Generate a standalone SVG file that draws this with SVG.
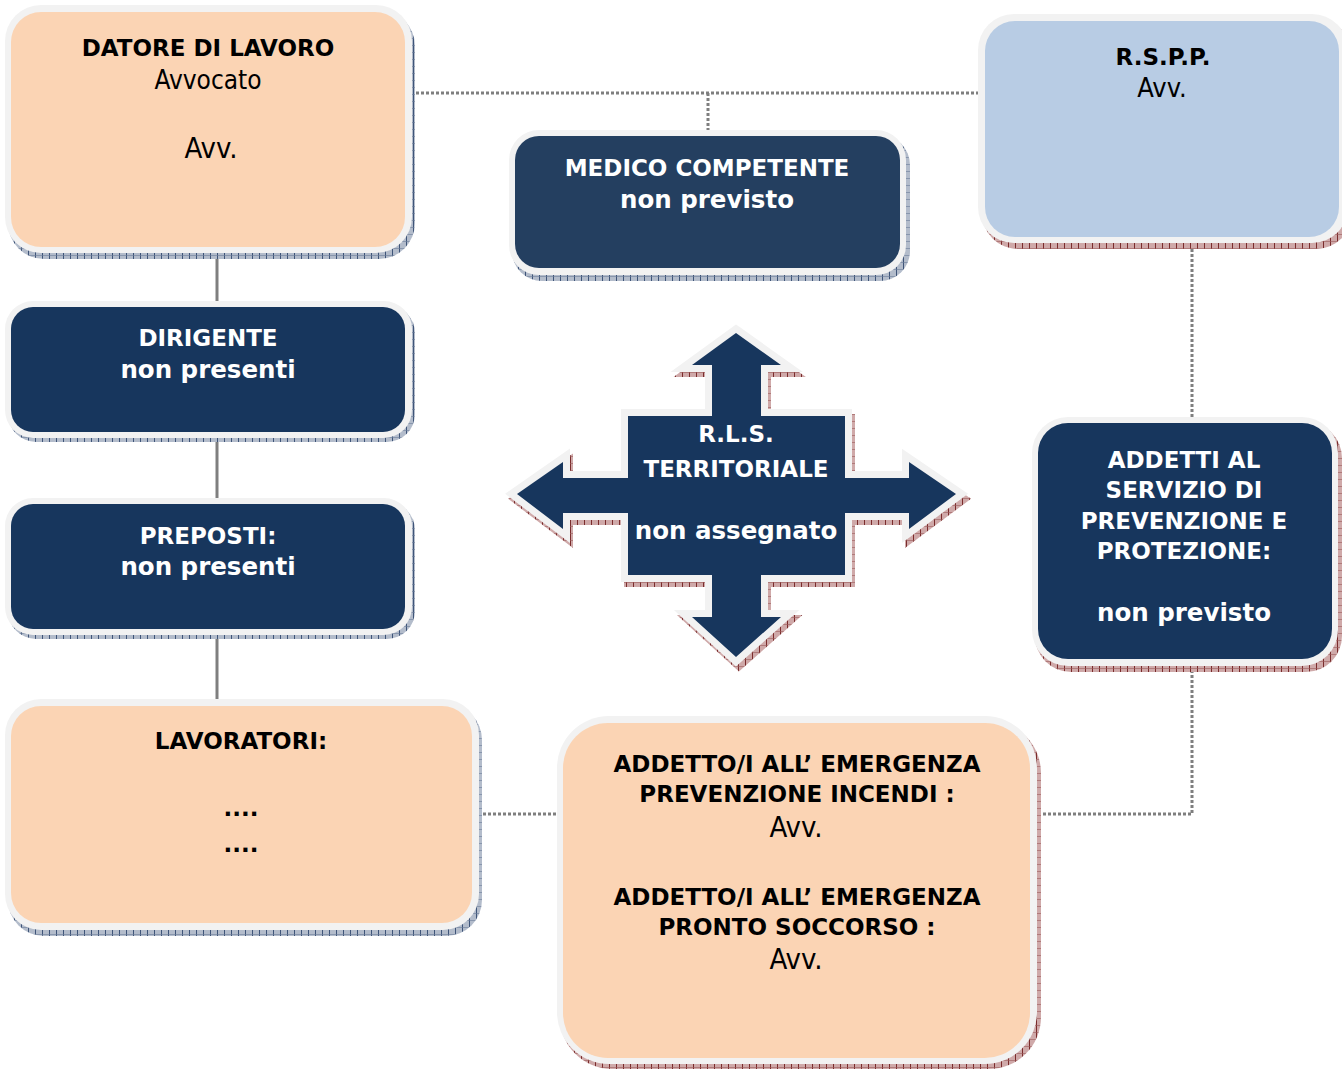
<svg xmlns="http://www.w3.org/2000/svg" xmlns:xlink="http://www.w3.org/1999/xlink" width="1342" height="1070" viewBox="0 0 1342 1070">
<style>
.b{font-family:"DejaVu Sans",Verdana,sans-serif;font-weight:bold;font-size:23px;text-anchor:middle}
.l{font-size:24.5px}
.r{font-family:"DejaVu Sans Condensed","DejaVu Sans",sans-serif;font-stretch:condensed;text-anchor:middle;fill:#000}
.w{fill:#fff}
.k{fill:#000}
.halo{fill:#F2F2F2}
.peach{fill:#FBD4B4}
.navy{fill:#17365D}
.sb{fill:url(#hb)}
.sr{fill:url(#hr)}
.solid{stroke:#7F7F7F;stroke-width:3;fill:none}
.dot{stroke:#7F7F7F;stroke-width:3;fill:none;stroke-dasharray:3 2}
</style>
<defs>
<pattern id="hb" width="7" height="7" patternUnits="userSpaceOnUse"><rect width="7" height="7" fill="#b3bccb"/><path d="M0.5 0V7" stroke="#3e5478" stroke-width="1"/><path d="M0 3.5H7" stroke="#6b7c99" stroke-width="0.6"/></pattern>
<pattern id="hr" width="7" height="7" patternUnits="userSpaceOnUse"><rect width="7" height="7" fill="#cfa9a9"/><path d="M0.5 0V7" stroke="#7a2c2c" stroke-width="1"/><path d="M0 3.5H7" stroke="#9a5a5a" stroke-width="0.6"/></pattern>
<polygon id="arrow" points="736,333 781,365 761,365 761,416 845,416 845,478 909,478 909,462 956,494 909,529 909,513 845,513 845,575 761,575 761,617 781,617 736,657 692,617 712,617 712,575 628,575 628,513 563,513 563,529 517,494 563,462 563,478 628,478 628,416 712,416 712,365 692,365"/>
</defs>
<rect width="1342" height="1070" fill="#fff"/>

<g id="connectors">
<line class="solid" x1="217" y1="255" x2="217" y2="308"/>
<line class="solid" x1="217" y1="437" x2="217" y2="505"/>
<line class="solid" x1="217" y1="634" x2="217" y2="707"/>
<line class="dot" x1="411" y1="93" x2="980" y2="93"/>
<line class="dot" x1="708" y1="93" x2="708" y2="132"/>
<line class="dot" x1="1192" y1="244" x2="1192" y2="418"/>
<polyline class="dot" points="1192,665 1192,814 1035,814"/>
<line class="dot" x1="478" y1="814" x2="562" y2="814"/>
</g>

<g id="datore">
<rect class="sb" x="8" y="10" width="407" height="249" rx="36"/>
<rect class="halo" x="5" y="5" width="407" height="248" rx="36"/>
<rect class="peach" x="11" y="12" width="394" height="235" rx="30"/>
<text class="b k" x="208" y="56">DATORE DI LAVORO</text>
<text class="r" x="208" y="89" font-size="26">Avvocato</text>
<text class="r" x="211" y="158" font-size="29">Avv.</text>
</g>

<g id="medico">
<rect class="sb" x="512" y="135" width="398" height="146" rx="30"/>
<rect class="halo" x="509" y="130" width="397" height="145" rx="30"/>
<rect fill="#243F60" x="515" y="136" width="385" height="132" rx="24"/>
<text class="b w" x="707" y="176">MEDICO COMPETENTE</text>
<text class="b w l" x="707" y="208">non previsto</text>
</g>

<g id="rspp">
<rect class="sr" x="982" y="19" width="370" height="230" rx="36"/>
<rect class="halo" x="978" y="14" width="370" height="229" rx="36"/>
<rect fill="#B8CCE4" x="985" y="21" width="354" height="216" rx="30"/>
<text class="b k" x="1163" y="65">R.S.P.P.</text>
<text class="r" x="1162" y="97" font-size="27">Avv.</text>
</g>

<g id="dirigente">
<rect class="sb" x="8" y="305" width="407" height="137" rx="28"/>
<rect class="halo" x="5" y="301" width="407" height="137" rx="28"/>
<rect class="navy" x="11" y="307" width="394" height="125" rx="22"/>
<text class="b w" x="208" y="346">DIRIGENTE</text>
<text class="b w l" x="208" y="378">non presenti</text>
</g>

<g id="preposti">
<rect class="sb" x="8" y="502" width="407" height="137" rx="28"/>
<rect class="halo" x="5" y="498" width="407" height="137" rx="28"/>
<rect class="navy" x="11" y="504" width="394" height="125" rx="22"/>
<text class="b w" x="208" y="544">PREPOSTI:</text>
<text class="b w l" x="208" y="575">non presenti</text>
</g>

<g id="lavoratori">
<rect class="sb" x="8" y="704" width="474" height="232" rx="36"/>
<rect class="halo" x="5" y="699" width="474" height="231" rx="36"/>
<rect class="peach" x="11" y="706" width="461" height="217" rx="30"/>
<text class="b k" x="241" y="749">LAVORATORI:</text>
<text class="b k" x="241" y="816">....</text>
<text class="b k" x="241" y="852">....</text>
</g>

<g id="rls">
<use xlink:href="#arrow" href="#arrow" transform="translate(3,5)" fill="url(#hr)" stroke="url(#hr)" stroke-width="14" stroke-linejoin="miter"/>
<use xlink:href="#arrow" href="#arrow" fill="#F2F2F2" stroke="#F2F2F2" stroke-width="14" stroke-linejoin="miter"/>
<use xlink:href="#arrow" href="#arrow" fill="#17365D"/>
<text class="b w" x="736" y="442">R.L.S.</text>
<text class="b w" x="736" y="477">TERRITORIALE</text>
<text class="b w l" x="736" y="539">non assegnato</text>
</g>

<g id="addetti">
<rect class="sr" x="1035" y="422" width="307" height="250" rx="36"/>
<rect class="halo" x="1032" y="417" width="306" height="249" rx="36"/>
<rect class="navy" x="1038" y="423" width="294" height="236" rx="30"/>
<text class="b w" x="1184" y="468">ADDETTI AL</text>
<text class="b w" x="1184" y="498">SERVIZIO DI</text>
<text class="b w" x="1184" y="529">PREVENZIONE E</text>
<text class="b w" x="1184" y="559">PROTEZIONE:</text>
<text class="b w l" x="1184" y="621">non previsto</text>
</g>

<g id="emergenza">
<rect class="sr" x="560" y="721" width="481" height="348" rx="52"/>
<rect class="halo" x="557" y="716" width="480" height="348" rx="52"/>
<rect class="peach" x="563" y="723" width="467" height="335" rx="45"/>
<text class="b k" x="797" y="772">ADDETTO/I ALL’ EMERGENZA</text>
<text class="b k" x="797" y="802">PREVENZIONE INCENDI :</text>
<text class="r" x="796" y="837" font-size="29">Avv.</text>
<text class="b k" x="797" y="905">ADDETTO/I ALL’ EMERGENZA</text>
<text class="b k" x="797" y="935">PRONTO SOCCORSO :</text>
<text class="r" x="796" y="969" font-size="29">Avv.</text>
</g>
</svg>
